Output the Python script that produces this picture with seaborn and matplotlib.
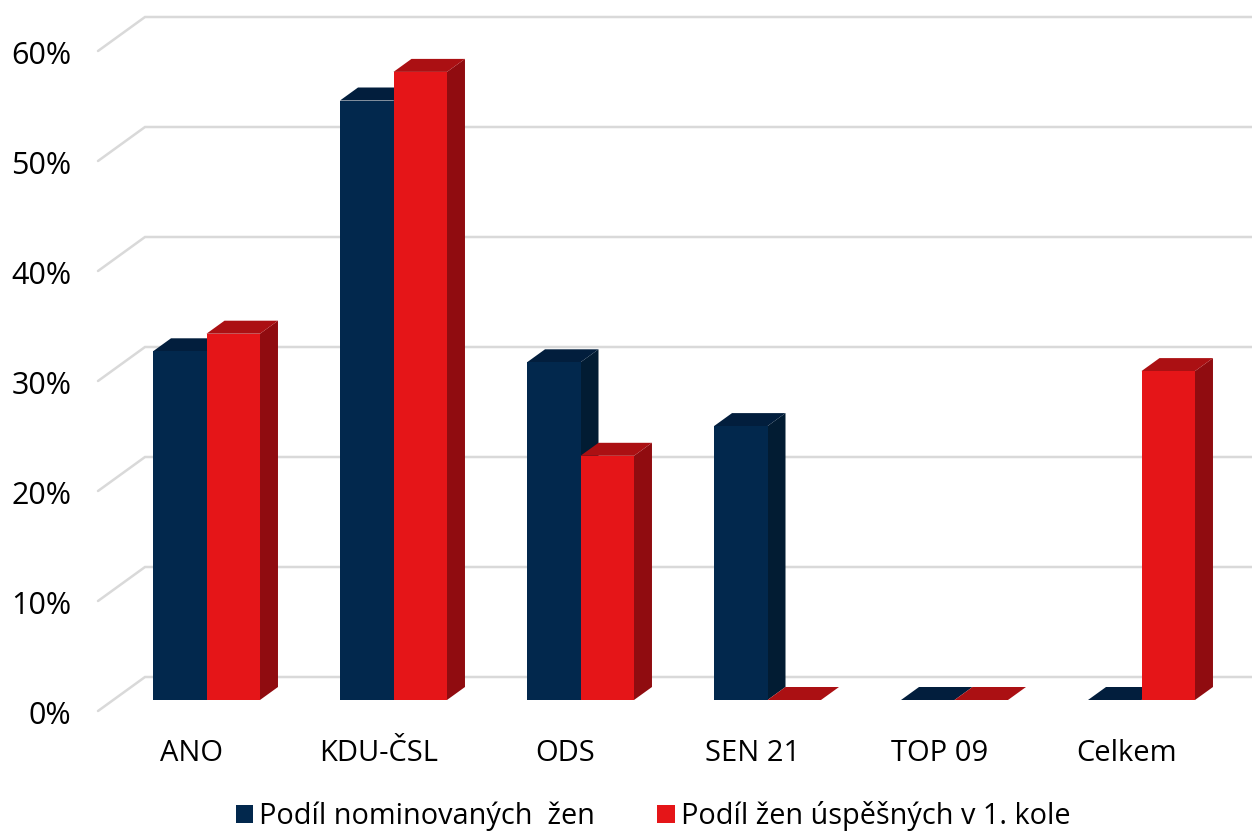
"""
Podíl žen na kandidátkách - 3D look column chart.
"""

import matplotlib

matplotlib.use("Agg")
import matplotlib.pyplot as plt
import pandas as pd
import seaborn as sns
from matplotlib.lines import Line2D
from matplotlib.patches import Polygon
from matplotlib.transforms import IdentityTransform, ScaledTranslation

categories = ["ANO", "KDU-ČSL", "ODS", "SEN 21", "TOP 09", "Celkem"]
nominated = [31.7, 54.5, 30.7, 24.9, 0, 0]
successful = [33.3, 57.1, 22.2, 0, 0, 29.9]
series_names = ["Podíl nominovaných  žen", "Podíl žen úspěšných v 1. kole"]
y_ticks = [0, 10, 20, 30, 40, 50, 60]

navy = {"front": "#02284d", "top": "#021e3d", "side": "#021c33"}
red = {"front": "#e51518", "top": "#ab1013", "side": "#900c10"}
GRID = "#d9d9d9"

DPI = 100
W, H = 1252, 832
# depth of the bars and of the floor, in pixels
BAR_DX, BAR_DY = 18, 13
BAR_SHIFT = (15, 11)
WALL_DX, WALL_DY = 47, 34

sns.set_theme(style="white")
plt.rcParams["font.family"] = ["Open Sans", "DejaVu Sans"]

df = pd.DataFrame(
    {
        "party": categories * 2,
        "value": nominated + successful,
        "series": [series_names[0]] * len(categories) + [series_names[1]] * len(categories),
    }
)

fig = plt.figure(figsize=(W / DPI, H / DPI), dpi=DPI, facecolor="white")
ax = fig.add_axes([98 / W, (H - 711) / H, 1122 / W, 660 / H])

sns.barplot(
    data=df,
    x="party",
    y="value",
    hue="series",
    hue_order=series_names,
    palette=[navy["front"], red["front"]],
    saturation=1,
    width=0.572,
    gap=0,
    linewidth=0,
    errorbar=None,
    ax=ax,
)
ax.set_xlim(-0.5, len(categories) - 0.5)
ax.set_ylim(0, 60)
ax.set_yticks(y_ticks, [f"{t}%" for t in y_ticks])
ax.set(xlabel=None, ylabel=None)
ax.patch.set_visible(False)
sns.despine(ax=ax, left=True, bottom=True)
ax.tick_params(axis="y", length=0, pad=19, labelsize=22, labelcolor="black")
ax.tick_params(axis="x", length=0, pad=20, labelsize=21, labelcolor="black")

# y labels sit a touch lower than the floor line ends
label_nudge = ScaledTranslation(0, -1.5 / DPI, fig.dpi_scale_trans)
for label in ax.get_yticklabels():
    label.set_transform(label.get_transform() + label_nudge)

identity = IdentityTransform()

# back wall gridlines and the diagonal floor lines
x_left = ax.transData.transform((-0.5, 0))[0]
for tick in y_ticks:
    y_px = ax.transData.transform((0, tick))[1]
    xs = [x_left, x_left + WALL_DX, W + 5]
    ys = [y_px, y_px + WALL_DY, y_px + WALL_DY]
    ax.add_artist(
        Line2D(xs, ys, color=GRID, lw=1.8, transform=identity, clip_on=False, zorder=1, solid_joinstyle="miter")
    )

# move bars back into the floor and add top and side faces
shift = ScaledTranslation(BAR_SHIFT[0] / DPI, BAR_SHIFT[1] / DPI, fig.dpi_scale_trans)
for level, (container, shades) in enumerate(zip(ax.containers, [navy, red])):
    for bar in container:
        bar.set_transform(ax.transData + shift)
        bar.set_clip_on(False)
        bar.set_zorder(4 + level * 3)
        x0, y0 = ax.transData.transform((bar.get_x(), bar.get_y()))
        x1, y1 = ax.transData.transform((bar.get_x() + bar.get_width(), bar.get_y() + bar.get_height()))
        x0, x1 = x0 + BAR_SHIFT[0], x1 + BAR_SHIFT[0]
        y0, y1 = y0 + BAR_SHIFT[1], y1 + BAR_SHIFT[1]
        side = [(x1, y0), (x1 + BAR_DX, y0 + BAR_DY), (x1 + BAR_DX, y1 + BAR_DY), (x1, y1)]
        top = [(x0, y1), (x0 + BAR_DX, y1 + BAR_DY), (x1 + BAR_DX, y1 + BAR_DY), (x1, y1)]
        for corners, shade, z in ((side, "side", 2), (top, "top", 3)):
            ax.add_artist(
                Polygon(
                    corners,
                    closed=True,
                    facecolor=shades[shade],
                    edgecolor="none",
                    transform=identity,
                    clip_on=False,
                    zorder=z + level * 3,
                )
            )

sns.move_legend(
    ax,
    "lower center",
    bbox_to_anchor=(653 / W, -0.0165),
    bbox_transform=fig.transFigure,
    ncol=2,
    title=None,
    frameon=False,
    fontsize=20.8,
    handlelength=0.62,
    handleheight=0.62,
    handletextpad=0.2,
    columnspacing=2.15,
    borderpad=0,
    labelcolor="black",
)

fig.savefig("out.png", dpi=DPI, facecolor="white")
